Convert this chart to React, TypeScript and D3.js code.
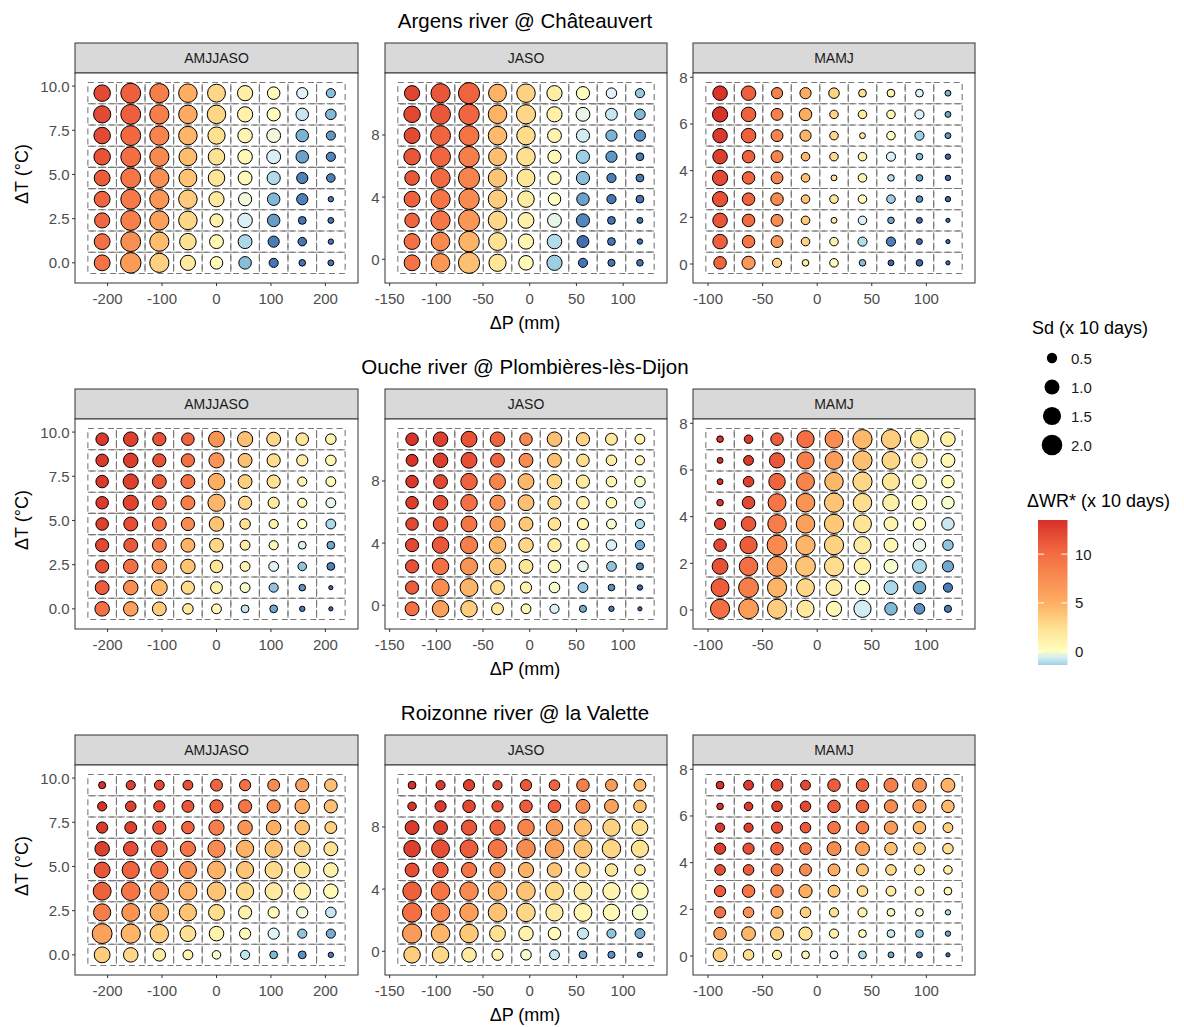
import React from 'react';
import * as d3 from 'd3';

// rivers (one plot row each) and seasons (facets)
const rivers = ['Argens river @ Châteauvert', 'Ouche river @ Plombières-lès-Dijon', 'Roizonne river @ la Valette'];
const seasons = ['AMJJASO', 'JASO', 'MAMJ'];

// grid of scenarios: precipitation change (mm) and temperature change (°C)
const dPAmjjaso = [-210, -157.5, -105, -52.5, 0, 52.5, 105, 157.5, 210];
const dPJaso = [-126, -95.5, -65, -34.5, -4, 26.5, 57, 87.5, 118];
const dPMamj = [-89, -62.9, -36.8, -10.7, 15.4, 41.5, 67.6, 93.7, 119.8];
const dTAmjjaso = [0, 1.2, 2.4, 3.6, 4.8, 6.0, 7.2, 8.4, 9.6];
const dTJaso = [-0.23, 1.14, 2.5, 3.87, 5.23, 6.6, 7.96, 9.33, 10.69];
const dTMamj = [0.05, 0.96, 1.87, 2.78, 3.69, 4.6, 5.5, 6.41, 7.32];

const xTicksAmjjaso = [-200, -100, 0, 100, 200];
const xTicksJaso = [-150, -100, -50, 0, 50, 100];
const xTicksMamj = [-100, -50, 0, 50, 100];
const yTicksAmjjaso = [0, 2.5, 5, 7.5, 10];
const yTicksJaso = [0, 4, 8];
const yTicksMamj = [0, 2, 4, 6, 8];

// ΔWR* (x 10 days) and Sd (x 10 days); rows go from highest ΔT (top) to lowest
const wrArgensAmjjaso = [
  [12, 10.8, 8.7, 5, 3, 1.2, 0.3, -0.4, -1.7],
  [12, 10.8, 8.7, 5.2, 3, 1, 0.2, -0.8, -1.8],
  [12, 10.3, 8.3, 4.6, 2.5, 0.8, -0.2, -1.9, -2.4],
  [11.5, 10, 7.8, 4.3, 2.3, 0.6, -0.5, -2.2, -2.7],
  [11, 9.3, 7.3, 4, 2, 0.4, -1.1, -2.8, -2.8],
  [10.5, 9, 6.8, 3.6, 1.7, -0.2, -1.8, -2.8, -2.9],
  [10.4, 8.6, 6, 3, 1.2, -0.5, -2.3, -3, -3],
  [9.8, 7.3, 4.3, 2.3, 0.5, -1.2, -2.9, -3, -3],
  [9.6, 6.5, 3.3, 1.7, 0.3, -1.7, -3, -3, -3],
];
const sdArgensAmjjaso = [
  [1.35, 2.0, 1.86, 1.72, 1.6, 1.14, 0.78, 0.64, 0.47],
  [1.47, 2.0, 1.86, 1.72, 1.72, 1.14, 0.86, 0.78, 0.58],
  [1.35, 2.0, 1.86, 1.72, 1.47, 1.04, 0.95, 0.78, 0.47],
  [1.35, 2.0, 1.86, 1.6, 1.35, 1.04, 0.95, 0.78, 0.47],
  [1.24, 2.0, 1.86, 1.6, 1.35, 0.95, 0.86, 0.64, 0.43],
  [1.24, 2.0, 1.86, 1.72, 1.14, 0.86, 0.78, 0.64, 0.31],
  [1.14, 2.0, 1.86, 1.72, 0.86, 1.04, 0.78, 0.39, 0.32],
  [1.24, 2.0, 1.86, 1.35, 0.95, 0.95, 0.64, 0.43, 0.31],
  [1.24, 2.14, 1.86, 1.14, 0.78, 0.78, 0.47, 0.34, 0.32],
];
const wrArgensJaso = [
  [12.3, 11.3, 10.6, 4.8, 3.2, 1.3, 0.1, -0.4, -1.5],
  [12.2, 11.2, 10.4, 4.8, 3, 1.1, -0.3, -0.8, -1.8],
  [12, 10.5, 9.5, 4.4, 2.7, 0.8, -0.6, -1.9, -2.5],
  [11.4, 10.4, 8.7, 4.2, 2.5, 0.5, -1.4, -2.4, -2.9],
  [11.2, 10.2, 8.2, 3.9, 2, 0.4, -1.7, -2.8, -2.9],
  [10.7, 9.4, 7.7, 3.5, 1.5, 0, -2.2, -3, -3],
  [10.4, 9.2, 6.8, 3, 1.1, -0.3, -2.7, -3, -3],
  [9.7, 7.8, 4.7, 2.4, 0.6, -1.1, -3.1, -3, -3],
  [9.6, 6.8, 4.1, 2.1, 0.3, -1.4, -3, -3, -3],
];
const sdArgensJaso = [
  [1.14, 1.86, 2.3, 1.6, 1.72, 1.14, 0.86, 0.58, 0.47],
  [1.35, 2.0, 2.14, 1.72, 1.86, 1.14, 0.95, 0.71, 0.58],
  [1.24, 2.0, 2.0, 1.72, 1.72, 0.95, 0.86, 0.64, 0.64],
  [1.35, 2.0, 2.14, 1.6, 1.72, 0.86, 0.86, 0.64, 0.39],
  [1.04, 1.86, 2.3, 1.72, 1.6, 0.86, 0.86, 0.47, 0.39],
  [1.24, 1.86, 2.14, 1.72, 1.35, 0.78, 0.78, 0.47, 0.39],
  [1.04, 1.86, 2.3, 1.72, 1.24, 0.95, 0.86, 0.39, 0.32],
  [1.24, 1.72, 2.14, 1.6, 1.14, 1.04, 0.71, 0.39, 0.31],
  [1.24, 1.72, 2.3, 1.47, 1.04, 1.14, 0.47, 0.36, 0.34],
];
const wrArgensMamj = [
  [13.3, 10.8, 8.5, 5.1, 3.2, 2.3, 0.9, -0.4, -1.9],
  [13.3, 10.7, 8.5, 5.1, 3.1, 1.8, 0.7, -0.5, -2.1],
  [13, 10.8, 8.3, 4.8, 3, 1.8, 0, -1.4, -2.4],
  [12.7, 10.7, 8.2, 4.4, 2.8, 1.3, -0.5, -1.7, -3.2],
  [12, 10.6, 8, 4.2, 2.4, 0.9, -1, -2.1, -3.2],
  [11.6, 10.6, 7.8, 3.9, 2, 0.4, -1.4, -2.5, -3.2],
  [11.4, 10.2, 7.6, 3.6, 1.5, -0.5, -2.1, -3.2, -3.2],
  [10.8, 9.4, 6.7, 3.3, 1.1, -1.1, -2.8, -3.2, -3.2],
  [10.4, 6.7, 3.3, 1.4, 0.3, -1.7, -3.2, -3.2, -3.2],
];
const sdArgensMamj = [
  [1.04, 1.04, 0.64, 0.64, 0.58, 0.39, 0.39, 0.39, 0.32],
  [1.14, 1.04, 0.71, 0.78, 0.43, 0.43, 0.43, 0.47, 0.32],
  [1.04, 1.04, 0.71, 0.64, 0.43, 0.32, 0.43, 0.47, 0.32],
  [1.04, 0.78, 0.71, 0.43, 0.43, 0.43, 0.47, 0.34, 0.31],
  [1.14, 0.78, 0.71, 0.43, 0.32, 0.43, 0.34, 0.34, 0.31],
  [1.14, 0.78, 0.78, 0.43, 0.43, 0.43, 0.43, 0.34, 0.31],
  [1.04, 0.78, 0.71, 0.43, 0.32, 0.43, 0.34, 0.32, 0.3],
  [1.04, 0.78, 0.71, 0.43, 0.43, 0.47, 0.47, 0.32, 0.3],
  [0.78, 0.86, 0.47, 0.34, 0.43, 0.34, 0.32, 0.34, 0.3],
];
const wrOucheAmjjaso = [
  [13, 12.6, 11.6, 10.6, 7, 4.1, 3, 2, 0.9],
  [13, 12.7, 11.6, 9.8, 7, 4.1, 2.6, 1.4, 0.6],
  [13, 12.6, 11.2, 9.7, 5, 3.4, 2.4, 1, 0.3],
  [12.9, 12.3, 10.6, 8.7, 4.6, 2.9, 1.7, 0.6, -0.3],
  [12.6, 11.7, 9.8, 7.7, 3.9, 2.4, 1.1, 0, -1.2],
  [12.1, 11.2, 8.7, 4.8, 3, 1.6, 0.6, -0.5, -2.1],
  [11.6, 9.8, 7, 3.9, 2, 0.8, -0.4, -1.6, -2.8],
  [10.9, 7.6, 4.5, 2.8, 1, -0.1, -1.6, -2.5, -3.2],
  [9.8, 6, 3.5, 1.8, 0.6, -0.8, -2.1, -2.9, -3.2],
];
const sdOucheAmjjaso = [
  [0.78, 1.04, 0.86, 0.78, 1.24, 1.14, 0.95, 0.78, 0.58],
  [0.78, 1.04, 0.86, 0.86, 1.14, 0.95, 0.86, 0.64, 0.58],
  [0.78, 1.14, 0.95, 0.95, 1.35, 0.95, 0.86, 0.47, 0.52],
  [0.78, 1.14, 0.95, 0.95, 1.47, 0.86, 0.64, 0.47, 0.52],
  [0.78, 0.95, 0.95, 0.86, 1.04, 0.58, 0.47, 0.47, 0.52],
  [0.86, 0.95, 0.95, 0.95, 0.95, 0.52, 0.47, 0.39, 0.39],
  [0.86, 1.04, 1.04, 1.04, 0.78, 0.52, 0.52, 0.43, 0.39],
  [0.95, 1.04, 1.24, 0.86, 0.71, 0.52, 0.47, 0.34, 0.3],
  [1.04, 1.04, 0.95, 0.58, 0.52, 0.39, 0.39, 0.31, 0.3],
];
const wrOucheJaso = [
  [13.3, 12.6, 11.6, 10.6, 7.8, 4.1, 3.2, 1.8, 0.8],
  [13.3, 12.7, 11.7, 10.6, 7.6, 4.1, 2.6, 1.4, 0.5],
  [13, 12.1, 10.6, 8.3, 4.5, 3, 1.7, 0.9, -0.1],
  [12.7, 11.7, 9.8, 7.2, 4.1, 2.8, 1.1, 0.4, -0.6],
  [12.1, 11.2, 9.4, 6.4, 3.8, 2.2, 0.8, -0.1, -1.2],
  [12.1, 11.2, 8.7, 4.6, 3, 1.5, 0.5, -0.5, -2],
  [11.6, 9.8, 7, 3.9, 2, 0.6, -0.3, -1.6, -2.8],
  [10.9, 7.6, 4.7, 2.8, 1, -0.1, -1.6, -2.5, -3.2],
  [9.8, 6, 3.5, 1.8, 0.6, -0.5, -2, -2.9, -3.2],
];
const sdOucheJaso = [
  [0.78, 1.04, 1.24, 1.04, 0.78, 1.04, 0.86, 0.71, 0.52],
  [0.71, 1.04, 1.24, 0.95, 0.95, 0.95, 0.78, 0.58, 0.47],
  [0.78, 0.95, 1.35, 1.24, 1.24, 1.04, 0.86, 0.58, 0.58],
  [0.78, 1.04, 1.35, 1.14, 1.24, 0.86, 0.78, 0.58, 0.58],
  [0.78, 1.04, 1.24, 1.14, 0.95, 0.78, 0.64, 0.52, 0.47],
  [0.86, 1.35, 1.47, 1.35, 1.04, 0.86, 0.78, 0.58, 0.47],
  [0.86, 1.35, 1.47, 1.35, 0.95, 0.78, 0.58, 0.52, 0.36],
  [0.86, 1.47, 1.6, 0.95, 0.64, 0.58, 0.52, 0.34, 0.31],
  [0.95, 1.35, 1.35, 0.71, 0.52, 0.47, 0.36, 0.31, 0.3],
];
const wrOucheMamj = [
  [13.3, 13, 10.9, 9.8, 7.6, 4.5, 3.5, 2.2, 1.2],
  [13.3, 13, 11.2, 8.7, 6.3, 4.1, 3, 1.6, 0.6],
  [13.3, 12.6, 10.6, 8.3, 4.5, 3, 2, 0.8, 0.3],
  [13, 12.1, 9.4, 7, 3.9, 2.6, 1.3, 0.3, -0.1],
  [12.6, 11.2, 8.7, 6, 3.7, 2.2, 0.8, 0.3, -0.7],
  [12.1, 10.9, 7.8, 4.6, 3.2, 1.6, 0.5, -0.3, -1.6],
  [11.6, 9.8, 6.4, 3.9, 2.6, 1.1, -0.1, -1.2, -2.1],
  [10.9, 8.7, 4.7, 3, 1.4, 0.3, -1.2, -2.1, -2.9],
  [9.8, 6.3, 3.5, 1.8, 0.5, -0.6, -1.8, -2.5, -2.9],
];
const sdOucheMamj = [
  [0.34, 0.43, 0.78, 1.47, 1.6, 1.86, 1.86, 1.6, 1.04],
  [0.32, 0.52, 1.14, 1.47, 1.6, 1.86, 1.6, 1.14, 0.95],
  [0.32, 0.58, 1.35, 1.6, 1.72, 1.86, 1.47, 0.95, 0.78],
  [0.34, 0.78, 1.6, 1.72, 1.86, 1.72, 1.35, 1.04, 0.78],
  [0.64, 1.04, 1.72, 1.72, 1.86, 1.6, 0.95, 0.78, 0.78],
  [0.78, 1.47, 2.0, 1.86, 1.86, 1.47, 0.95, 0.78, 0.58],
  [1.24, 1.72, 2.0, 2.0, 1.86, 1.35, 0.95, 0.95, 0.64],
  [1.6, 2.0, 1.86, 1.6, 1.24, 1.04, 0.95, 0.78, 0.47],
  [1.86, 2.0, 1.86, 1.47, 1.14, 1.47, 0.78, 0.58, 0.36],
];
const wrRoizonneAmjjaso = [
  [13.3, 12.7, 12.1, 11.7, 10.6, 9.7, 7.7, 6, 4.1],
  [13.3, 12.7, 12.1, 11.4, 10.6, 9.4, 7.7, 5.2, 4.1],
  [13, 12.6, 11.2, 10.6, 8.7, 7, 5, 4.1, 3.3],
  [12.6, 11.7, 10.6, 9.4, 7.7, 4.8, 3.9, 3, 2.4],
  [11.4, 10.6, 9.4, 7.2, 4.8, 3.9, 2.8, 2, 1.1],
  [10.7, 9.4, 7.2, 4.8, 3.9, 2.8, 1.6, 1.1, 0.5],
  [8.7, 7, 4.8, 3.9, 2.6, 1.1, 0.3, -0.2, -0.8],
  [6, 4.6, 3.5, 2.4, 1, 0.3, -0.4, -1.6, -2],
  [3.5, 2.9, 1.6, 0.8, -0.1, -0.9, -1.8, -2.5, -2.9],
];
const sdRoizonneAmjjaso = [
  [0.36, 0.47, 0.52, 0.52, 0.71, 0.64, 0.71, 0.86, 0.78],
  [0.47, 0.58, 0.64, 0.71, 0.86, 0.86, 0.86, 1.04, 0.86],
  [0.64, 0.71, 0.86, 0.78, 1.14, 1.04, 1.04, 1.04, 0.71],
  [1.04, 1.04, 1.24, 1.14, 1.47, 1.47, 1.47, 1.24, 0.95],
  [1.24, 1.47, 1.47, 1.47, 1.6, 1.47, 1.47, 1.24, 1.04],
  [1.6, 1.72, 1.72, 1.6, 1.72, 1.47, 1.47, 1.35, 1.04],
  [1.47, 1.6, 1.72, 1.47, 1.24, 0.86, 0.64, 0.64, 0.58],
  [2.0, 1.86, 1.72, 1.24, 1.04, 0.64, 0.64, 0.47, 0.47],
  [1.24, 1.04, 0.78, 0.52, 0.43, 0.47, 0.39, 0.39, 0.31],
];
const wrRoizonneJaso = [
  [13.3, 13, 12.6, 12.1, 11.2, 10.6, 8.7, 6.4, 4.5],
  [13.3, 13, 12.1, 11.6, 10.9, 10.6, 7.7, 6, 4.1],
  [13, 12.6, 11.4, 10.6, 8.3, 6.4, 4.1, 3.2, 2.6],
  [12.6, 11.7, 10.9, 9.4, 7.7, 6, 3.9, 3, 2.4],
  [11.7, 10.9, 9.4, 7.2, 4.8, 3.9, 2.8, 2, 1.5],
  [10.7, 9.4, 7.7, 4.8, 3.9, 2.8, 1.6, 0.8, 0.5],
  [9.8, 8, 6.2, 4, 3, 1.6, 0.8, 0.5, -0.1],
  [6.4, 4.6, 3.7, 2.4, 1, 0.3, -0.8, -1.6, -2],
  [3.5, 2.9, 1.6, 0.8, -0.1, -0.8, -2, -2.5, -2.9],
];
const sdRoizonneJaso = [
  [0.39, 0.47, 0.64, 0.47, 0.64, 0.58, 0.78, 0.71, 0.71],
  [0.43, 0.64, 0.78, 0.64, 0.78, 0.78, 0.95, 0.95, 0.78],
  [0.95, 0.95, 1.14, 1.14, 1.35, 1.35, 1.47, 1.47, 1.24],
  [1.35, 1.6, 1.6, 1.72, 1.72, 1.72, 1.6, 1.72, 1.47],
  [0.95, 1.14, 1.14, 1.14, 1.14, 1.04, 1.04, 0.78, 0.58],
  [1.72, 1.72, 1.72, 1.72, 1.72, 1.6, 1.6, 1.47, 1.35],
  [1.86, 1.72, 1.72, 1.72, 1.72, 1.47, 1.6, 1.35, 1.14],
  [1.86, 1.72, 1.72, 1.24, 1.04, 0.78, 0.64, 0.47, 0.52],
  [1.35, 1.35, 1.04, 0.64, 0.58, 0.52, 0.39, 0.36, 0.31],
];
const wrRoizonneMamj = [
  [13.3, 13, 12.2, 12.1, 10.9, 10.6, 8.7, 7.2, 4.8],
  [13.3, 13, 12.6, 12.1, 10.9, 10.6, 7.7, 6.4, 4.5],
  [13, 12.6, 11.7, 11.2, 9.4, 8.7, 6.4, 4.5, 3.3],
  [12.7, 11.7, 10.6, 9.4, 7.7, 6, 4.1, 3.4, 2.6],
  [11.7, 10.9, 9.4, 7.7, 5.2, 3.9, 2.8, 2, 1.2],
  [10.9, 9.4, 7.7, 5, 3.9, 2.8, 1.6, 1.1, 0.5],
  [9.7, 7.2, 4.8, 3.4, 2.4, 1.2, 0.6, -0.2, -1.2],
  [6.4, 4.6, 3.5, 2.4, 1, 0.3, -0.8, -1.6, -2.1],
  [3.5, 2.6, 1.5, 0.8, -0.3, -1.2, -2.1, -2.8, -3.2],
];
const sdRoizonneMamj = [
  [0.39, 0.52, 0.71, 0.52, 0.78, 0.78, 0.95, 0.95, 0.95],
  [0.34, 0.43, 0.58, 0.58, 0.78, 0.78, 0.86, 0.86, 0.78],
  [0.47, 0.47, 0.64, 0.58, 0.78, 0.78, 0.86, 0.78, 0.52],
  [0.64, 0.64, 0.78, 0.71, 0.95, 0.95, 0.78, 0.71, 0.58],
  [0.58, 0.58, 0.71, 0.71, 0.71, 0.71, 0.58, 0.52, 0.43],
  [0.64, 0.78, 0.78, 0.86, 0.71, 0.58, 0.52, 0.43, 0.39],
  [0.64, 0.58, 0.71, 0.58, 0.47, 0.47, 0.39, 0.39, 0.31],
  [0.78, 0.95, 0.86, 0.86, 0.47, 0.39, 0.39, 0.39, 0.31],
  [0.95, 0.58, 0.47, 0.39, 0.39, 0.39, 0.32, 0.32, 0.3],
];

// legends
const sdLegendValues = [0.5, 1.0, 1.5, 2.0];
const wrLegendTicks = [0, 5, 10];
const wrLegendLimits = [-1.37, 13.5];

const wrByRiver = [
  [wrArgensAmjjaso, wrArgensJaso, wrArgensMamj],
  [wrOucheAmjjaso, wrOucheJaso, wrOucheMamj],
  [wrRoizonneAmjjaso, wrRoizonneJaso, wrRoizonneMamj],
];
const sdByRiver = [
  [sdArgensAmjjaso, sdArgensJaso, sdArgensMamj],
  [sdOucheAmjjaso, sdOucheJaso, sdOucheMamj],
  [sdRoizonneAmjjaso, sdRoizonneJaso, sdRoizonneMamj],
];
const seasonAxes = [
  { dP: dPAmjjaso, dT: dTAmjjaso, xTicks: xTicksAmjjaso, yTicks: yTicksAmjjaso, yFmt: d3.format('.1f') },
  { dP: dPJaso, dT: dTJaso, xTicks: xTicksJaso, yTicks: yTicksJaso, yFmt: (v: number) => String(v) },
  { dP: dPMamj, dT: dTMamj, xTicks: xTicksMamj, yTicks: yTicksMamj, yFmt: (v: number) => String(v) },
];

const FONT = '"Liberation Sans", Arial, sans-serif';
const AXIS_GREY = '#4d4d4d';

// RdYlBu-like fill scale, white-yellow at zero
const colour = d3
  .scaleLinear<string>()
  .domain([-4, -3, -2, -1.2, -0.4, 0, 2.5, 5, 10, 13.5])
  .range(['#313695', '#4575b4', '#74add1', '#abd9e9', '#e0f3f8', '#ffffbf', '#fee090', '#fdae61', '#f46d43', '#d73027'])
  .interpolate(d3.interpolateRgb)
  .clamp(true);

// area-like size scale (diameter in px)
const sdUnit = d3.scaleLinear().domain([0.3, 2.3]).range([0, 1]).clamp(true);
const diameter = (sd: number) => 5 + 17 * Math.sqrt(sdUnit(sd));

const panelX = [75, 385, 693];
const panelW = [283, 282, 282];
const rowStep = 346;
const stripTop = 43;
const stripH = 30;
const panelH = 210;

// continuous scale over the tile extent plus 5% expansion, like ggplot
function expandedScale(vals: number[], r0: number, r1: number) {
  const step = vals[1] - vals[0];
  const lo = vals[0] - step / 2;
  const hi = vals[vals.length - 1] + step / 2;
  const pad = (hi - lo) * 0.05;
  return d3.scaleLinear().domain([lo - pad, hi + pad]).range([r0, r1]);
}

function Panel({ row, col }: { row: number; col: number }) {
  const ax = seasonAxes[col];
  const x0 = panelX[col];
  const w = panelW[col];
  const sTop = stripTop + row * rowStep;
  const y0 = sTop + stripH;
  const x = expandedScale(ax.dP, x0, x0 + w);
  const y = expandedScale(ax.dT, y0 + panelH, y0);
  const sx = ax.dP[1] - ax.dP[0];
  const sy = ax.dT[1] - ax.dT[0];
  const wr = wrByRiver[row][col];
  const sd = sdByRiver[row][col];
  const n = ax.dT.length;

  return (
    <g>
      {/* strip */}
      <rect x={x0} y={sTop} width={w} height={stripH} fill="#d9d9d9" stroke="#333333" strokeWidth={1} />
      <text x={x0 + w / 2} y={sTop + stripH / 2} textAnchor="middle" dominantBaseline="central" fontSize={14} fill="#1a1a1a">
        {seasons[col]}
      </text>
      <rect x={x0} y={y0} width={w} height={panelH} fill="#ffffff" />
      {/* dashed tiles */}
      <g fill="none" stroke="#7a7a7a" strokeWidth={1.1} strokeDasharray="6 4">
        {ax.dT.map((tv, j) =>
          ax.dP.map((pv, i) => (
            <rect
              key={`t${i}-${j}`}
              x={x(pv - sx / 2)}
              y={y(tv + sy / 2)}
              width={x(pv + sx / 2) - x(pv - sx / 2)}
              height={y(tv - sy / 2) - y(tv + sy / 2)}
            />
          ))
        )}
      </g>
      {/* points */}
      <g stroke="#000000" strokeWidth={1}>
        {wr.map((rowVals, r) =>
          rowVals.map((v, i) => (
            <circle
              key={`p${i}-${r}`}
              cx={x(ax.dP[i])}
              cy={y(ax.dT[n - 1 - r])}
              r={diameter(sd[r][i]) / 2 - 0.4}
              fill={colour(v)}
            />
          ))
        )}
      </g>
      <rect x={x0} y={y0} width={w} height={panelH} fill="none" stroke="#333333" strokeWidth={1} />
      {/* y axis */}
      {ax.yTicks.map((t) => (
        <g key={`yt${t}`}>
          <line x1={x0 - 3} x2={x0} y1={y(t)} y2={y(t)} stroke="#333333" />
          <text x={x0 - 5.5} y={y(t)} textAnchor="end" dominantBaseline="central" fontSize={15} fill={AXIS_GREY}>
            {ax.yFmt(t)}
          </text>
        </g>
      ))}
      {/* x axis */}
      {ax.xTicks.map((t) => (
        <g key={`xt${t}`}>
          <line x1={x(t)} x2={x(t)} y1={y0 + panelH} y2={y0 + panelH + 3} stroke="#333333" />
          <text x={x(t)} y={y0 + panelH + 15.5} textAnchor="middle" dominantBaseline="central" fontSize={15} fill={AXIS_GREY}>
            {String(t)}
          </text>
        </g>
      ))}
    </g>
  );
}

function Legends() {
  const barX = 1038;
  const barW = 29.5;
  const barTop = 520;
  const barBottom = 665;
  const yBar = d3.scaleLinear().domain(wrLegendLimits).range([barBottom, barTop]);
  const stops = d3.range(0, 21).map((k) => {
    const v = wrLegendLimits[0] + ((wrLegendLimits[1] - wrLegendLimits[0]) * k) / 20;
    return { off: k / 20, c: colour(v) };
  });
  const keyY = [358, 387, 416, 445];
  return (
    <g>
      <defs>
        <linearGradient id="wrGrad" x1="0" y1="1" x2="0" y2="0">
          {stops.map((s) => (
            <stop key={s.off} offset={s.off} stopColor={s.c} />
          ))}
        </linearGradient>
      </defs>
      <text x={1032} y={328} dominantBaseline="central" fontSize={18} fill="#000">
        Sd (x 10 days)
      </text>
      {sdLegendValues.map((v, k) => (
        <g key={`sd${v}`}>
          <circle cx={1052} cy={keyY[k]} r={diameter(v) / 2} fill="#000" />
          <text x={1071} y={keyY[k]} dominantBaseline="central" fontSize={15} fill="#1a1a1a">
            {d3.format('.1f')(v)}
          </text>
        </g>
      ))}
      <text x={1027} y={501} dominantBaseline="central" fontSize={18} fill="#000">
        ΔWR* (x 10 days)
      </text>
      <rect x={barX} y={barTop} width={barW} height={barBottom - barTop} fill="url(#wrGrad)" />
      {wrLegendTicks.map((t) => (
        <g key={`wt${t}`}>
          <line x1={barX} x2={barX + 6} y1={yBar(t)} y2={yBar(t)} stroke="#ffffff" strokeWidth={1} />
          <line x1={barX + barW - 6} x2={barX + barW} y1={yBar(t)} y2={yBar(t)} stroke="#ffffff" strokeWidth={1} />
          <text x={1075} y={yBar(t)} dominantBaseline="central" fontSize={15} fill="#1a1a1a">
            {String(t)}
          </text>
        </g>
      ))}
    </g>
  );
}

export default function App() {
  return (
    <svg
      width={1184}
      height={1027}
      viewBox="0 0 1184 1027"
      style={{ position: 'absolute', left: 0, top: 0, background: '#ffffff' }}
      fontFamily={FONT}
    >
      <rect width={1184} height={1027} fill="#ffffff" />
      {rivers.map((name, row) => {
        const oy = row * rowStep;
        const pTop = stripTop + oy + stripH;
        return (
          <g key={name}>
            <text x={525} y={20 + oy} textAnchor="middle" dominantBaseline="central" fontSize={20.5} fill="#000">
              {name}
            </text>
            {seasons.map((s, col) => (
              <Panel key={s} row={row} col={col} />
            ))}
            <text x={525} y={pTop + panelH + 40} textAnchor="middle" dominantBaseline="central" fontSize={18} fill="#000">
              ΔP (mm)
            </text>
            <text
              transform={`translate(22, ${pTop + panelH / 2 - 4}) rotate(-90)`}
              textAnchor="middle"
              dominantBaseline="central"
              fontSize={18}
              fill="#000"
            >
              ΔT (°C)
            </text>
          </g>
        );
      })}
      <Legends />
    </svg>
  );
}
